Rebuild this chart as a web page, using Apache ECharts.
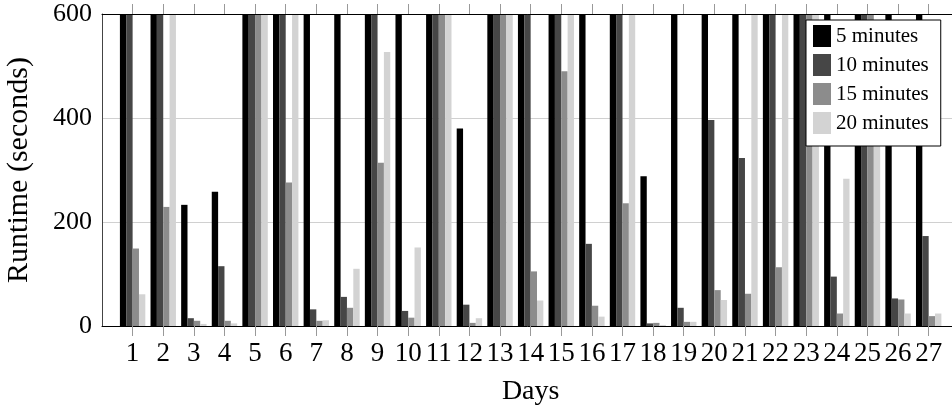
<!DOCTYPE html>
<html>
<head>
<meta charset="utf-8">
<style>
  html, body { margin: 0; padding: 0; background: #fff; }
  #chart { width: 952px; height: 413px; }
</style>
<script src="https://cdn.jsdelivr.net/npm/echarts@6/dist/echarts.min.js"></script>
</head>
<body>
<div id="chart"></div>
<script>
// Runtime per day, one series per time window (600 s = time limit)
const days = ['1','2','3','4','5','6','7','8','9','10','11','12','13','14','15','16','17','18','19','20','21','22','23','24','25','26','27'];
const seriesNames = ['5 minutes', '10 minutes', '15 minutes', '20 minutes'];
const min5  = [600, 600, 233, 258, 600, 600, 600, 600, 600, 600, 600, 380, 600, 600, 600, 600, 600, 288, 600, 600, 600, 600, 600, 600, 600, 600, 600];
const min10 = [600, 600,  15, 115, 600, 600,  32,  56, 600,  29, 600,  41, 600, 600, 600, 158, 600,   5,  35, 396, 323, 600, 600,  95, 600,  53, 173];
const min15 = [149, 229,  10,  10, 600, 276,  10,  35, 314,  16, 600,   6, 600, 105, 490,  39, 236,   6,   8,  69,  62, 113, 600,  24, 600,  51,  19];
const min20 = [ 61, 600,   4,   5, 600, 600,  11, 110, 527, 151, 600,  15, 600,  49, 600,  18, 600,   2,   8,  50, 600, 600, 600, 283, 470,  24,  24];
const seriesColors = ['#000000', '#464646', '#8c8c8c', '#d3d3d3'];
const yMin = 0, yMax = 600, yStep = 200;

const FONT = 'Liberation Serif';

// The day axis runs from 0 to 28 so that day 1 and day 27 sit one slot in from the edges
const axisCats = [''].concat(days, ['']);
const pad = arr => ['-'].concat(arr, ['-']);
const showDayTick = idx => idx >= 1 && idx <= days.length;

const chart = echarts.init(document.getElementById('chart'), null, { renderer: 'canvas' });

const valueSets = [min5, min10, min15, min20];

chart.setOption({
  animation: false,
  backgroundColor: '#ffffff',
  grid: {
    left: 102,
    top: 14,
    width: 857.3,
    height: 312,
    containLabel: false,
    outerBoundsMode: 'none'
  },
  legend: {
    orient: 'vertical',
    left: 806,
    top: 20,
    z: 10,
    selectedMode: false,
    icon: 'rect',
    itemWidth: 18,
    itemHeight: 22,
    itemGap: 7,
    itemTextGap: 5,
    padding: [5, 12, 12, 7],
    backgroundColor: '#ffffff',
    borderColor: '#000000',
    borderWidth: 1,
    borderRadius: 0,
    textStyle: { fontFamily: FONT, fontSize: 21, color: '#000' },
    data: seriesNames
  },
  xAxis: [
    {
      type: 'category',
      data: axisCats,
      boundaryGap: false,
      position: 'bottom',
      name: 'Days',
      nameLocation: 'middle',
      nameGap: 52,
      nameTextStyle: { fontFamily: FONT, fontSize: 28, color: '#000' },
      axisLine: { show: true, lineStyle: { color: '#000', width: 1 } },
      axisTick: { show: true, inside: false, length: 10, interval: showDayTick, lineStyle: { color: '#999' } },
      axisLabel: { show: true, interval: 0, margin: 14, fontFamily: FONT, fontSize: 27, color: '#000' },
      splitLine: { show: false }
    },
    {
      type: 'category',
      data: axisCats,
      boundaryGap: false,
      position: 'top',
      axisLine: { show: true, lineStyle: { color: '#000', width: 1 } },
      axisTick: { show: true, inside: false, length: 10, interval: showDayTick, lineStyle: { color: '#999' } },
      axisLabel: { show: false },
      splitLine: { show: false },
      z: 5
    }
  ],
  yAxis: {
    type: 'value',
    min: yMin,
    max: yMax,
    interval: yStep,
    name: 'Runtime (seconds)',
    nameLocation: 'middle',
    nameGap: 68,
    nameTextStyle: { fontFamily: FONT, fontSize: 30, color: '#000' },
    axisLine: { show: true, lineStyle: { color: '#444', width: 1 } },
    axisTick: { show: false },
    axisLabel: { margin: 10, fontFamily: FONT, fontSize: 26, color: '#000' },
    splitLine: { show: true, lineStyle: { color: '#d0d0d0', width: 1 } }
  },
  series: seriesNames.map((name, i) => ({
    name: name,
    type: 'bar',
    xAxisIndex: 0,
    data: pad(valueSets[i]),
    barGap: '0%',
    barCategoryGap: '17%',
    itemStyle: { color: seriesColors[i] },
    emphasis: { disabled: true }
  }))
});
</script>
</body>
</html>
